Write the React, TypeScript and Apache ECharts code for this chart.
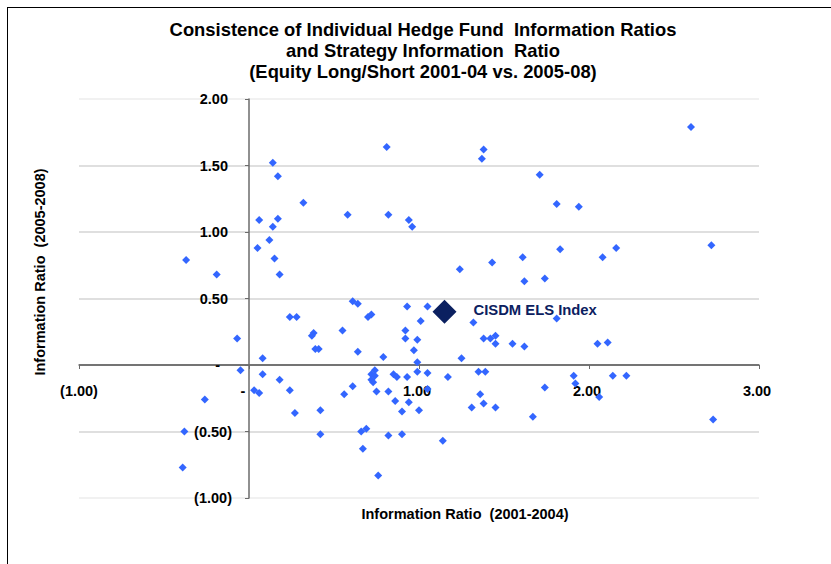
import React, { useEffect, useRef } from "react";
import * as echarts from "echarts";

const titleLines = [
  "Consistence of Individual Hedge Fund  Information Ratios",
  "and Strategy Information  Ratio",
  "(Equity Long/Short 2001-04 vs. 2005-08)",
];
const xAxisName = "Information Ratio  (2001-2004)";
const yAxisName = "Information Ratio  (2005-2008)";

const xTickValues = [-1, 0, 1, 2, 3];
const xTickLabels = ["(1.00)", "-", "1.00", "2.00", "3.00"];
const yTickValues = [-1, -0.5, 0, 0.5, 1, 1.5, 2];
const yTickLabels = ["(1.00)", "(0.50)", "-", "0.50", "1.00", "1.50", "2.00"];

// Individual hedge funds: IR 2001-2004 (x) and IR 2005-2008 (y)
const fundIR0104 = [
  -0.37, -0.19, -0.07, -0.05, -0.26, -0.38, -0.39, 0.05, 0.06, 0.12,
  0.14, 0.14, 0.17, 0.17, 0.15, 0.18, 0.32, 0.58, 0.08, 0.08,
  0.18, 0.03, 0.06, 0.24, 0.27, 0.42, 0.42, 0.24, 0.28, 0.38,
  0.37, 0.39, 0.41, 0.55, 0.61, 0.64, 0.7, 0.72, 0.64, 0.56,
  0.61, 0.79, 0.97, 0.99, 1.25, 0.74, 0.72, 0.74, 0.72, 0.73,
  0.85, 0.87, 0.93, 0.99, 1.05, 1.17, 1.35, 1.39, 0.75, 0.82,
  0.86, 0.94, 0.9, 1.0, 1.05, 1.36, 1.38, 1.31, 1.45, 0.66,
  0.69, 0.82, 0.9, 1.14, 0.67, 0.76, 1.67, 1.74, 1.91, 1.92,
  2.06, 2.14, 2.22, 2.73, 2.05, 2.11, 1.81, 1.32, 0.93, 1.05,
  1.01, 0.92, 0.92, 0.99, 1.38, 1.42, 1.45, 1.45, 1.55, 1.62,
  1.24, 1.43, 1.61, 1.62, 1.74, 1.83, 2.08, 2.16, 2.72, 1.94,
  1.81, 1.71, 1.38, 1.37, 0.81, 0.82, 0.94, 0.96, 2.6,
];
const fundIR0508 = [
  0.79, 0.68, 0.2, -0.04, -0.26, -0.5, -0.77, 0.88, 1.09, 0.94,
  1.52, 1.04, 1.1, 1.42, 0.8, 0.68, 1.22, 1.13, 0.05, -0.07,
  -0.11, -0.19, -0.21, -0.19, -0.36, -0.34, -0.52, 0.36, 0.36, 0.24,
  0.22, 0.12, 0.12, 0.26, 0.48, 0.46, 0.36, 0.38, 0.1, -0.22,
  -0.16, 0.06, 0.11, 0.02, 0.05, -0.04, -0.07, -0.08, -0.11, -0.13,
  -0.07, -0.09, -0.09, -0.05, -0.06, -0.09, -0.05, -0.05, -0.2, -0.2,
  -0.27, -0.28, -0.35, -0.34, -0.18, -0.22, -0.29, -0.32, -0.32, -0.5,
  -0.48, -0.53, -0.52, -0.57, -0.63, -0.83, -0.39, -0.17, -0.08, -0.14,
  -0.24, -0.08, -0.08, -0.41, 0.16, 0.17, 0.35, 0.32, 0.44, 0.44,
  0.33, 0.26, 0.2, 0.19, 0.2, 0.2, 0.22, 0.16, 0.16, 0.14,
  0.72, 0.77, 0.81, 0.63, 0.65, 0.87, 0.81, 0.88, 0.9, 1.19,
  1.21, 1.43, 1.62, 1.55, 1.64, 1.13, 1.09, 1.04, 1.79,
];

const indexName = "CISDM ELS Index";
const indexPoint = [1.15, 0.4];

const FONT = "'Liberation Sans', Arial, sans-serif";

const GRID = { left: 79, right: 72, top: 99, bottom: 66 };
const W = 831;
const H = 564;
const X_MIN = -1, X_MAX = 3, Y_MIN = -1, Y_MAX = 2;
// offsets so the axes sit on the zero lines (computed from the scale extents)
const plotW = W - GRID.left - GRID.right;
const plotH = H - GRID.top - GRID.bottom;
const yAxisShift = -((0 - X_MIN) / (X_MAX - X_MIN)) * plotW;
const xAxisShift = -((0 - Y_MIN) / (Y_MAX - Y_MIN)) * plotH;

function tickLabel(values: number[], labels: string[], v: number) {
  let idx = -1;
  for (let i = 0; i < values.length; i++) {
    if (Math.abs(values[i] - v) < 1e-9) idx = i;
  }
  if (idx < 0) return "";
  const t = labels[idx];
  if (t === "-") return "{z|-}";
  if (t.startsWith("(")) return "{n|" + t + "}";
  return "{p|" + t + "}";
}

const richBase = {
  fontSize: 14.5,
  fontWeight: "bold" as const,
  fontFamily: FONT,
  color: "#000",
};

export default function App() {
  const ref = useRef<HTMLDivElement>(null);
  useEffect(() => {
    if (!ref.current) return;
    const chart = echarts.init(ref.current, null, { renderer: "svg" });
    const fundData = fundIR0104.map((x, i) => [x, fundIR0508[i]]);
    chart.setOption({
      animation: false,
      backgroundColor: "#fff",
      grid: { ...GRID, containLabel: false },
      xAxis: {
        type: "value",
        min: X_MIN,
        max: X_MAX,
        interval: 1,
        offset: xAxisShift,
        axisLine: { show: true, onZero: false, lineStyle: { color: "#6b6b6b", width: 1.5 } },
        axisTick: { show: true, inside: false, length: 4, lineStyle: { color: "#6b6b6b", width: 1 } },
        splitLine: { show: false },
        axisLabel: {
          margin: 18,
          formatter: (v: number) => tickLabel(xTickValues, xTickLabels, v),
          rich: {
            p: { ...richBase, padding: [0, 4, 0, 0] },
            n: { ...richBase },
            z: { ...richBase, padding: [0, 12, 0, 0] },
          },
        },
      },
      yAxis: {
        type: "value",
        min: Y_MIN,
        max: Y_MAX,
        interval: 0.5,
        offset: yAxisShift,
        axisLine: { show: true, onZero: false, lineStyle: { color: "#6b6b6b", width: 1.5 } },
        axisTick: { show: true, inside: false, length: 4, lineStyle: { color: "#6b6b6b", width: 1 } },
        splitLine: {
          show: true,
          lineStyle: {
            color: ["#ececec", "#d4d4d4", "#6b6b6b", "#d4d4d4", "#d4d4d4", "#d4d4d4", "#ececec"],
            width: 1.5,
          },
        },
        axisLabel: {
          margin: 17,
          formatter: (v: number) => tickLabel(yTickValues, yTickLabels, v),
          rich: {
            p: { ...richBase, padding: [0, 4, 0, 0] },
            n: { ...richBase },
            z: { ...richBase, padding: [0, 12, 0, 0] },
          },
        },
      },
      series: [
        {
          type: "scatter",
          name: "Funds",
          data: fundData,
          symbol: "diamond",
          symbolSize: 8,
          itemStyle: { color: "#3366ff", opacity: 1 },
          z: 2,
        },
        {
          type: "scatter",
          name: indexName,
          data: [indexPoint],
          symbol: "diamond",
          symbolSize: 24,
          itemStyle: { color: "#0b2060", opacity: 1 },
          z: 3,
          label: {
            show: true,
            position: "right",
            distance: 17,
            offset: [0, -2],
            formatter: indexName,
            color: "#0b2060",
            fontSize: 14.8,
            fontWeight: "bold",
            fontFamily: FONT,
          },
        },
      ],
      graphic: [
        {
          type: "line",
          shape: { x1: 7.5, y1: 7, x2: 7.5, y2: 564 },
          style: { stroke: "#000", lineWidth: 1 },
        },
        {
          type: "line",
          shape: { x1: 7, y1: 7.5, x2: 831, y2: 7.5 },
          style: { stroke: "#000", lineWidth: 1 },
        },
        {
          type: "text",
          x: 423,
          y: 19,
          style: {
            text: titleLines.join("\n"),
            textAlign: "center",
            textVerticalAlign: "top",
            fontSize: 18.4,
            lineHeight: 21,
            fontWeight: "bold",
            fontFamily: FONT,
            fill: "#000",
          },
        },
        {
          type: "text",
          x: 465,
          y: 514,
          style: {
            text: xAxisName,
            textAlign: "center",
            textVerticalAlign: "middle",
            fontSize: 14.5,
            fontWeight: "bold",
            fontFamily: FONT,
            fill: "#000",
          },
        },
        {
          type: "text",
          x: 40,
          y: 272,
          rotation: Math.PI / 2,
          style: {
            text: yAxisName,
            textAlign: "center",
            textVerticalAlign: "middle",
            fontSize: 14.5,
            fontWeight: "bold",
            fontFamily: FONT,
            fill: "#000",
          },
        },
      ],
    });
    return () => chart.dispose();
  }, []);
  return (
    <div
      ref={ref}
      style={{ position: "absolute", left: 0, top: 0, width: W, height: H }}
    />
  );
}
